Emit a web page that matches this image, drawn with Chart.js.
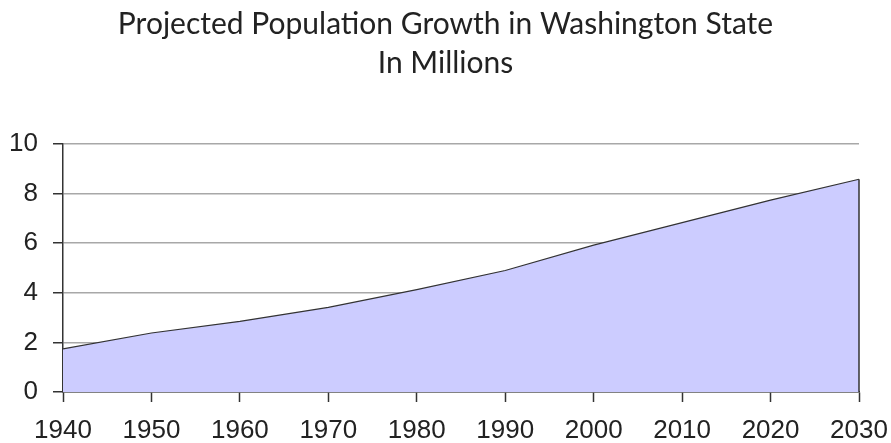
<!DOCTYPE html>
<html>
<head>
<meta charset="utf-8">
<script src="https://cdn.jsdelivr.net/npm/chart.js@4/dist/chart.umd.min.js"></script>
<style>
  html, body { margin: 0; padding: 0; background: #fff; }
  #wrap { width: 891px; height: 443px; }
</style>
</head>
<body>
<div id="wrap"><canvas id="myChart" width="891" height="443"></canvas></div>
<script>
// data
const years = ['1940', '1950', '1960', '1970', '1980', '1990', '2000', '2010', '2020', '2030'];
const population = [1.74, 2.38, 2.85, 3.41, 4.13, 4.90, 5.92, 6.83, 7.74, 8.58];
const titleLines = ['Projected Population Growth in Washington State', 'In Millions'];

// closes the area on the right side like the original
const rightEdge = {
    id: 'rightEdge',
    afterDatasetsDraw(chart) {
        const meta = chart.getDatasetMeta(0);
        const last = meta.data[meta.data.length - 1];
        const y0 = chart.scales.y.getPixelForValue(0);
        const ctx = chart.ctx;
        ctx.save();
        ctx.strokeStyle = '#333';
        ctx.lineWidth = 1.5;
        ctx.beginPath();
        ctx.moveTo(last.x, last.y);
        ctx.lineTo(last.x, y0);
        ctx.stroke();
        ctx.restore();
    }
};

new Chart(document.getElementById('myChart').getContext('2d'), {
    type: 'line',
    data: {
        labels: years,
        datasets: [{
            label: 'Population',
            data: population,
            fill: 'origin',
            backgroundColor: '#ccccff',
            borderColor: '#333',
            borderWidth: 1.2,
            pointRadius: 0,
            tension: 0
        }]
    },
    plugins: [rightEdge],
    options: {
        responsive: false,
        animation: false,
        layout: { padding: 0 },
        plugins: {
            legend: { display: false },
            tooltip: { enabled: false },
            title: {
                display: true,
                text: titleLines,
                color: '#222',
                font: { family: 'Lato', size: 30, weight: 'normal', lineHeight: 1.3 },
                padding: { top: 5, bottom: 61 }
            }
        },
        scales: {
            x: {
                offset: false,
                grid: { drawOnChartArea: false, drawTicks: true, tickLength: 10, tickColor: '#333', tickWidth: 1.5 },
                border: { color: '#333', width: 1.5 },
                ticks: {
                    color: '#222',
                    font: { family: 'Liberation Sans', size: 26 },
                    maxRotation: 0,
                    autoSkip: false,
                    padding: 13
                },
                afterFit(scale) {
                    scale.height = 51;
                    scale.paddingLeft = 0;
                    scale.paddingRight = 32;
                }
            },
            y: {
                min: 0,
                max: 10,
                ticks: {
                    stepSize: 2,
                    color: '#222',
                    font: { family: 'Liberation Sans', size: 26 },
                    padding: 15
                },
                grid: { color: '#a8a8a8', lineWidth: 1.5, tickLength: 10, tickColor: '#333' },
                border: { color: '#333', width: 1.5 },
                afterFit(scale) { scale.width = 63; }
            }
        }
    }
});
</script>
</body>
</html>
